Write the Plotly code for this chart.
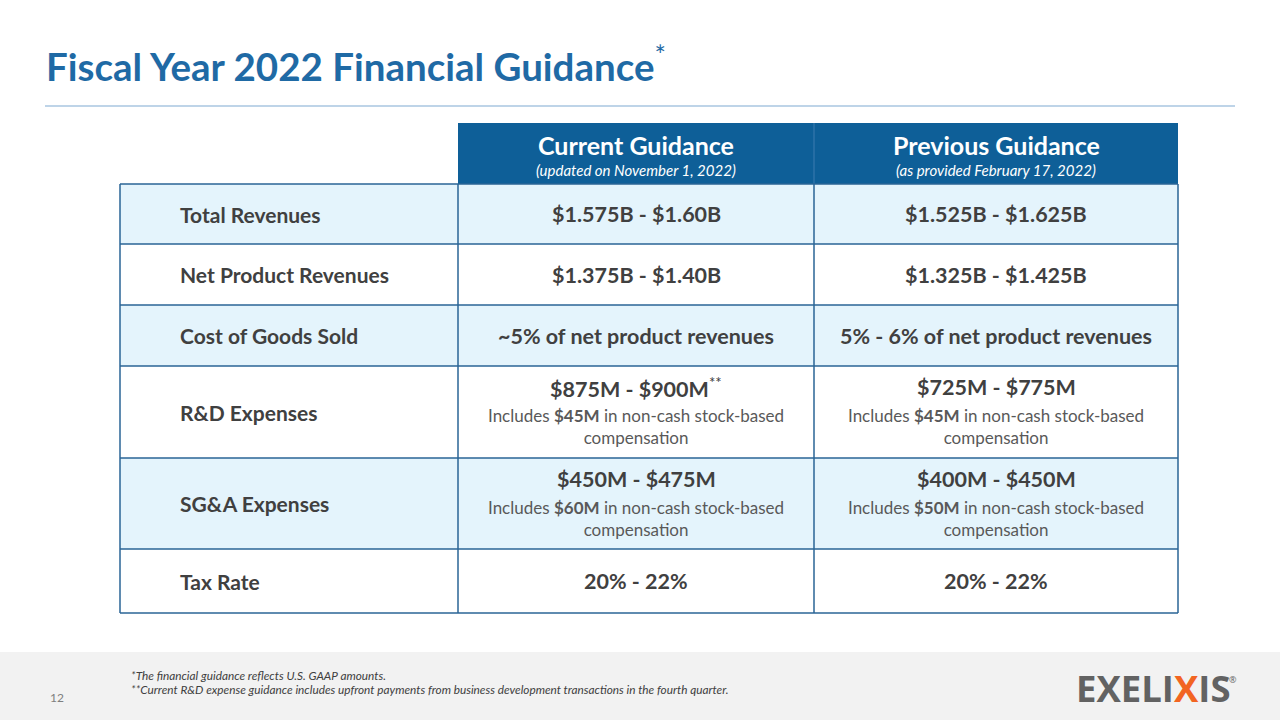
import plotly.graph_objects as go

# ---------------- data ----------------
title_text = "Fiscal Year 2022 Financial Guidance"
col_headers = ["Current Guidance", "Previous Guidance"]
col_subheaders = ["(updated on November 1, 2022)", "(as provided February 17, 2022)"]
row_labels = ["Total Revenues", "Net Product Revenues", "Cost of Goods Sold",
              "R&D Expenses", "SG&A Expenses", "Tax Rate"]
current_values = ["$1.575B - $1.60B", "$1.375B - $1.40B", "~5% of net product revenues",
                  "$875M - $900M", "$450M - $475M", "20% - 22%"]
current_marks = ["", "", "", "**", "", ""]
previous_values = ["$1.525B - $1.625B", "$1.325B - $1.425B", "5% - 6% of net product revenues",
                   "$725M - $775M", "$400M - $450M", "20% - 22%"]
current_sbc = [None, None, None, "$45M", "$60M", None]
previous_sbc = [None, None, None, "$45M", "$50M", None]
footnotes = ["*The financial guidance reflects U.S. GAAP amounts.",
             "**Current R&D expense guidance includes upfront payments from business development transactions in the fourth quarter."]
page_number = "12"

# ---------------- layout constants ----------------
FONT = "Lato"
BLUE = "#1F6AA5"
HEADER_BLUE = "#0E5F98"
BORDER = "#2A6496"
LIGHT = "#E4F4FC"
TEXT = "#404040"
row_edges = [184, 244, 305, 366, 458, 549, 613]
x_edges = [120, 458, 814, 1178]
header_top = 123

fig = go.Figure()
shapes = []
ann = []

# title
ann.append(dict(x=44, y=63, xanchor="left", yanchor="middle",
                text=f"<b>{title_text}</b><sup>*</sup>",
                font=dict(family=FONT, size=38.5, color=BLUE), showarrow=False))
shapes.append(dict(type="line", x0=45, x1=1235, y0=106, y1=106,
                   line=dict(color="#7FAAD2", width=1.2)))

# header
shapes.append(dict(type="rect", x0=x_edges[1], x1=x_edges[3], y0=header_top, y1=row_edges[0],
                   fillcolor=HEADER_BLUE, line=dict(width=0)))
shapes.append(dict(type="line", x0=x_edges[2], x1=x_edges[2], y0=header_top, y1=row_edges[0],
                   line=dict(color="#3D7DB0", width=1)))
for i in range(2):
    cx = (x_edges[i + 1] + x_edges[i + 2]) / 2
    ann.append(dict(x=cx, y=145, text=f"<b>{col_headers[i]}</b>", showarrow=False,
                    font=dict(family=FONT, size=25, color="white"), xanchor="center", yanchor="middle"))
    ann.append(dict(x=cx, y=170, text=f"<i>{col_subheaders[i]}</i>", showarrow=False,
                    font=dict(family=FONT, size=15, color="white"), xanchor="center", yanchor="middle"))

# rows
for r, label in enumerate(row_labels):
    y0, y1 = row_edges[r], row_edges[r + 1]
    fill = LIGHT if r % 2 == 0 else "white"
    shapes.append(dict(type="rect", x0=x_edges[0], x1=x_edges[3], y0=y0, y1=y1,
                       fillcolor=fill, line=dict(width=0), layer="below"))
    ym = (y0 + y1) / 2
    ann.append(dict(x=178, y=ym, text=f"<b>{label}</b>", showarrow=False, xanchor="left",
                    yanchor="middle", font=dict(family=FONT, size=21, color=TEXT)))
    for c, (vals, sbc) in enumerate([(current_values, current_sbc), (previous_values, previous_sbc)]):
        cx = (x_edges[c + 1] + x_edges[c + 2]) / 2
        mark = f"<sup>{current_marks[r]}</sup>" if (c == 0 and current_marks[r]) else ""
        if sbc[r] is None:
            ann.append(dict(x=cx, y=ym, text=f"<b>{vals[r]}</b>{mark}", showarrow=False,
                            xanchor="center", yanchor="middle",
                            font=dict(family=FONT, size=21.5, color=TEXT)))
        else:
            ann.append(dict(x=cx, y=y0 + 21, text=f"<b>{vals[r]}</b>{mark}", showarrow=False,
                            xanchor="center", yanchor="middle",
                            font=dict(family=FONT, size=21.5, color=TEXT)))
            ann.append(dict(x=cx, y=y0 + 60,
                            text=f"Includes <b>{sbc[r]}</b> in non-cash stock-based<br>compensation",
                            showarrow=False, xanchor="center", yanchor="middle",
                            font=dict(family=FONT, size=17, color="#595959")))

# borders
for yy in row_edges:
    shapes.append(dict(type="line", x0=x_edges[0], x1=x_edges[3], y0=yy, y1=yy,
                       line=dict(color=BORDER, width=1.5)))
for xx in x_edges:
    shapes.append(dict(type="line", x0=xx, x1=xx, y0=row_edges[0], y1=row_edges[-1],
                       line=dict(color=BORDER, width=1.5)))

# footer band
shapes.append(dict(type="rect", x0=0, x1=1280, y0=652, y1=720, fillcolor="#F2F2F2",
                   line=dict(width=0), layer="below"))
ann.append(dict(x=48, y=697, text=page_number, showarrow=False, xanchor="left", yanchor="middle",
                font=dict(family=FONT, size=12, color="#7F7F7F")))
for i, fn in enumerate(footnotes):
    ann.append(dict(x=129, y=675 + i * 14, text=f"<i>{fn}</i>", showarrow=False, xanchor="left",
                    yanchor="middle", font=dict(family=FONT, size=11.8, color="#404040")))

# logo
ann.append(dict(x=1074, y=688, xanchor="left", yanchor="middle", showarrow=False,
                text="<b>EXELI<span style='color:#F26522'>X</span>IS</b>",
                font=dict(family="Open Sans", size=36.5, color="#626262")))
ann.append(dict(x=1227, y=679, xanchor="left", yanchor="middle", showarrow=False,
                text="®", font=dict(family="Open Sans", size=9, color="#626262")))

fig.update_layout(
    width=1280, height=720, margin=dict(l=0, r=0, t=0, b=0),
    paper_bgcolor="white", plot_bgcolor="white",
    xaxis=dict(range=[0, 1280], visible=False, fixedrange=True),
    yaxis=dict(range=[720, 0], visible=False, fixedrange=True),
    shapes=shapes, annotations=ann, showlegend=False,
)
fig.write_html("out.html", config={"displayModeBar": False},
               post_script="document.body.style.margin='0';document.body.style.overflow='hidden';")
